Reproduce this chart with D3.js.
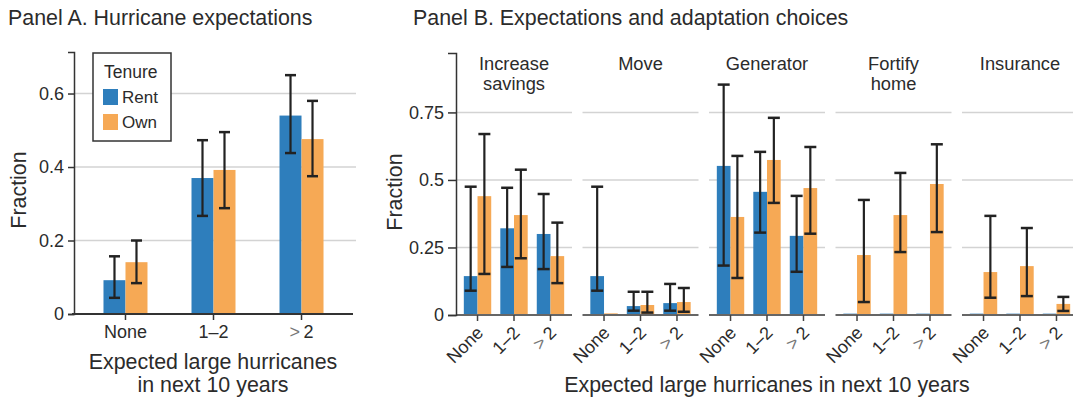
<!DOCTYPE html>
<html>
<head>
<meta charset="utf-8">
<script src="https://cdn.jsdelivr.net/npm/d3@7"></script>
<style>
  body { margin: 0; background: #fff; }
  text { font-family: "Liberation Sans", Arial, sans-serif; fill: #2b2b2b; }
</style>
</head>
<body>
<div id="chart"></div>
<script>
// categories of expected hurricanes
var cats = ["None", "1\u20132", "> 2"];

// Panel A: share of respondents, by tenure
var rentA = [0.092, 0.370, 0.540];
var rentALo = [0.044, 0.267, 0.438];
var rentAHi = [0.157, 0.473, 0.650];
var ownA = [0.141, 0.392, 0.476];
var ownALo = [0.084, 0.288, 0.375];
var ownAHi = [0.200, 0.495, 0.580];
var ticksA = [0, 0.2, 0.4, 0.6];

// Panel B: adaptation choices
var facets = [["Increase", "savings"], ["Move"], ["Generator"], ["Fortify", "home"], ["Insurance"]];
var rentB = [[0.144, 0.321, 0.300], [0.144, 0.033, 0.044], [0.552, 0.456, 0.293], [0.005, 0.005, 0.005], [0.005, 0.005, 0.005]];
var rentBLo = [[0.090, 0.178, 0.170], [0.090, 0.016, 0.016], [0.183, 0.305, 0.160], [null, null, null], [null, null, null]];
var rentBHi = [[0.475, 0.471, 0.448], [0.475, 0.086, 0.115], [0.853, 0.604, 0.441], [null, null, null], [null, null, null]];
var ownB = [[0.440, 0.370, 0.218], [0.006, 0.037, 0.048], [0.363, 0.574, 0.470], [0.222, 0.370, 0.485], [0.159, 0.181, 0.041]];
var ownBLo = [[0.152, 0.210, 0.118], [null, 0.009, 0.012], [0.137, 0.415, 0.301], [0.048, 0.233, 0.307], [0.064, 0.070, 0.015]];
var ownBHi = [[0.670, 0.538, 0.342], [null, 0.086, 0.100], [0.589, 0.730, 0.622], [0.426, 0.526, 0.632], [0.367, 0.322, 0.067]];
var ticksB = [0, 0.25, 0.5, 0.75];

var blue = '#2e7ebc', orange = '#f6a955', ink = '#222';

var svg = d3.select('#chart').append('svg')
    .attr('width', 1073)
    .attr('height', 399);

// helper: draws the "> 2" label with a thin grey ">"
function catLabel(sel) {
  sel.each(function(d) {
    var t = d3.select(this);
    if (d.indexOf('>') === 0) {
      t.append('tspan').style('fill', '#777').text('>');
      t.append('tspan').text('\u20092');
    } else {
      t.text(d);
    }
  });
}

function errorBar(g, x, lo, hi, cap) {
  if (lo == null) return;
  g.append('line').attr('x1', x).attr('x2', x).attr('y1', lo).attr('y2', hi)
    .attr('stroke', ink).attr('stroke-width', 2.2);
  [lo, hi].forEach(function(y) {
    g.append('line').attr('x1', x - cap / 2).attr('x2', x + cap / 2).attr('y1', y).attr('y2', y)
      .attr('stroke', ink).attr('stroke-width', 2.5);
  });
}

// ---------------- Panel A ----------------
var yA = d3.scaleLinear().domain([0, 0.713]).range([314, 52]);
var xA = d3.scalePoint().domain(cats).range([74, 353]).padding(0.585);
var bwA = 22;

var gA = svg.append('g');
gA.append('text').attr('x', 8).attr('y', 25).style('font-size', '21.4px')
  .text('Panel A. Hurricane expectations');

gA.selectAll('line.grid').data(ticksA.slice(1)).enter().append('line')
  .attr('x1', 74).attr('x2', 356)
  .attr('y1', function(d) { return yA(d); }).attr('y2', function(d) { return yA(d); })
  .attr('stroke', '#d3d3d3').attr('stroke-width', 1.5);

cats.forEach(function(c, i) {
  var cx = xA(c);
  gA.append('rect').attr('x', cx - bwA).attr('width', bwA)
    .attr('y', yA(rentA[i])).attr('height', yA(0) - yA(rentA[i])).attr('fill', blue);
  gA.append('rect').attr('x', cx).attr('width', bwA)
    .attr('y', yA(ownA[i])).attr('height', yA(0) - yA(ownA[i])).attr('fill', orange);
  errorBar(gA, cx - bwA / 2, yA(rentALo[i]), yA(rentAHi[i]), 11);
  errorBar(gA, cx + bwA / 2, yA(ownALo[i]), yA(ownAHi[i]), 11);
});

var axA = gA.append('g').attr('transform', 'translate(74,0)')
  .call(d3.axisLeft(yA).tickValues(ticksA).tickFormat(d3.format('~g')).tickSize(6).tickPadding(4));
axA.select('.domain').attr('stroke', '#333').attr('stroke-width', 1.5);
axA.selectAll('.tick line').attr('stroke', '#333').attr('stroke-width', 1.5);
axA.selectAll('.tick text').style('font-size', '18px').style('font-family', null);

var bxA = gA.append('g').attr('transform', 'translate(0,314)');
bxA.append('line').attr('x1', 72).attr('x2', 353).attr('stroke', '#333').attr('stroke-width', 1.8);
bxA.selectAll('line.tk').data(cats).enter().append('line')
  .attr('x1', function(d) { return xA(d); }).attr('x2', function(d) { return xA(d); })
  .attr('y1', 0).attr('y2', 6).attr('stroke', '#333').attr('stroke-width', 1.5);
bxA.selectAll('text').data(cats).enter().append('text')
  .attr('x', function(d) { return xA(d); }).attr('y', 24)
  .attr('text-anchor', 'middle').style('font-size', '18px')
  .call(catLabel);

gA.append('text').attr('transform', 'translate(26,190) rotate(-90)')
  .attr('text-anchor', 'middle').style('font-size', '21.4px').text('Fraction');
gA.append('text').attr('x', 213).attr('y', 369).attr('text-anchor', 'middle')
  .style('font-size', '21.4px').text('Expected large hurricanes');
gA.append('text').attr('x', 213).attr('y', 392).attr('text-anchor', 'middle')
  .style('font-size', '21.4px').text('in next 10 years');

// legend
var lg = gA.append('g');
lg.append('rect').attr('x', 93).attr('y', 53).attr('width', 78).attr('height', 88)
  .attr('fill', '#fff').attr('stroke', '#333').attr('stroke-width', 1.5);
lg.append('text').attr('x', 104).attr('y', 78).style('font-size', '17.5px').text('Tenure');
[['Rent', blue], ['Own', orange]].forEach(function(d, i) {
  lg.append('rect').attr('x', 103).attr('y', 89 + i * 25).attr('width', 15).attr('height', 16).attr('fill', d[1]);
  lg.append('text').attr('x', 122).attr('y', 103 + i * 25).style('font-size', '17px').text(d[0]);
});

// ---------------- Panel B ----------------
var yB = d3.scaleLinear().domain([0, 0.97]).range([315, 53]);
// facets run off the right edge a little, like the original
var facetX = d3.scaleBand().domain(d3.range(facets.length)).range([456, 1078]).paddingInner(10.5 / 126.5);
var fw = facetX.bandwidth();
var xB = d3.scalePoint().domain(cats).range([0, fw]).padding(0.59);
var bwB = 13.7;

var gB = svg.append('g');
gB.append('text').attr('x', 413).attr('y', 25).style('font-size', '21.4px')
  .text('Panel B. Expectations and adaptation choices');

facets.forEach(function(title, f) {
  var fx = facetX(f);
  var g = gB.append('g').attr('transform', 'translate(' + fx + ',0)');

  g.selectAll('line.grid').data(ticksB.slice(1)).enter().append('line')
    .attr('x1', 0).attr('x2', fw)
    .attr('y1', function(d) { return yB(d); }).attr('y2', function(d) { return yB(d); })
    .attr('stroke', '#d3d3d3').attr('stroke-width', 1.5);

  g.selectAll('text.title').data(title).enter().append('text')
    .attr('x', fw / 2).attr('y', function(d, i) { return 70 + i * 20; })
    .attr('text-anchor', 'middle').style('font-size', '18.3px').text(function(d) { return d; });

  cats.forEach(function(c, i) {
    var cx = xB(c);
    g.append('rect').attr('x', cx - bwB).attr('width', bwB)
      .attr('y', yB(rentB[f][i])).attr('height', yB(0) - yB(rentB[f][i])).attr('fill', blue);
    g.append('rect').attr('x', cx).attr('width', bwB)
      .attr('y', yB(ownB[f][i])).attr('height', yB(0) - yB(ownB[f][i])).attr('fill', orange);
    errorBar(g, cx - bwB / 2, rentBLo[f][i] == null ? null : yB(rentBLo[f][i]), yB(rentBHi[f][i] || 0), 12);
    errorBar(g, cx + bwB / 2, ownBLo[f][i] == null ? null : yB(ownBLo[f][i]), yB(ownBHi[f][i] || 0), 12);
  });

  var bx = g.append('g').attr('transform', 'translate(0,315)');
  bx.append('line').attr('x1', 0).attr('x2', fw).attr('stroke', '#666').attr('stroke-width', 2);
  bx.selectAll('line.tk').data(cats).enter().append('line')
    .attr('x1', function(d) { return xB(d); }).attr('x2', function(d) { return xB(d); })
    .attr('y1', 0).attr('y2', 6).attr('stroke', '#444').attr('stroke-width', 1.5);
  bx.selectAll('text').data(cats).enter().append('text')
    .attr('transform', function(d) { return 'translate(' + (xB(d) - 2) + ',10) rotate(-45)'; })
    .attr('text-anchor', 'end').attr('dy', '0.7em').style('font-size', '18px')
    .call(catLabel);
});

var axB = gB.append('g').attr('transform', 'translate(456,0)')
  .call(d3.axisLeft(yB).tickValues(ticksB).tickFormat(d3.format('~g')).tickSize(8).tickPadding(4));
axB.select('.domain').attr('stroke', '#333').attr('stroke-width', 1.5);
axB.selectAll('.tick line').attr('stroke', '#333').attr('stroke-width', 1.5);
axB.selectAll('.tick text').style('font-size', '18px').style('font-family', null);

gB.append('text').attr('transform', 'translate(402,192) rotate(-90)')
  .attr('text-anchor', 'middle').style('font-size', '21.4px').text('Fraction');
gB.append('text').attr('x', 767).attr('y', 392).attr('text-anchor', 'middle')
  .style('font-size', '21.4px').text('Expected large hurricanes in next 10 years');
</script>
</body>
</html>
